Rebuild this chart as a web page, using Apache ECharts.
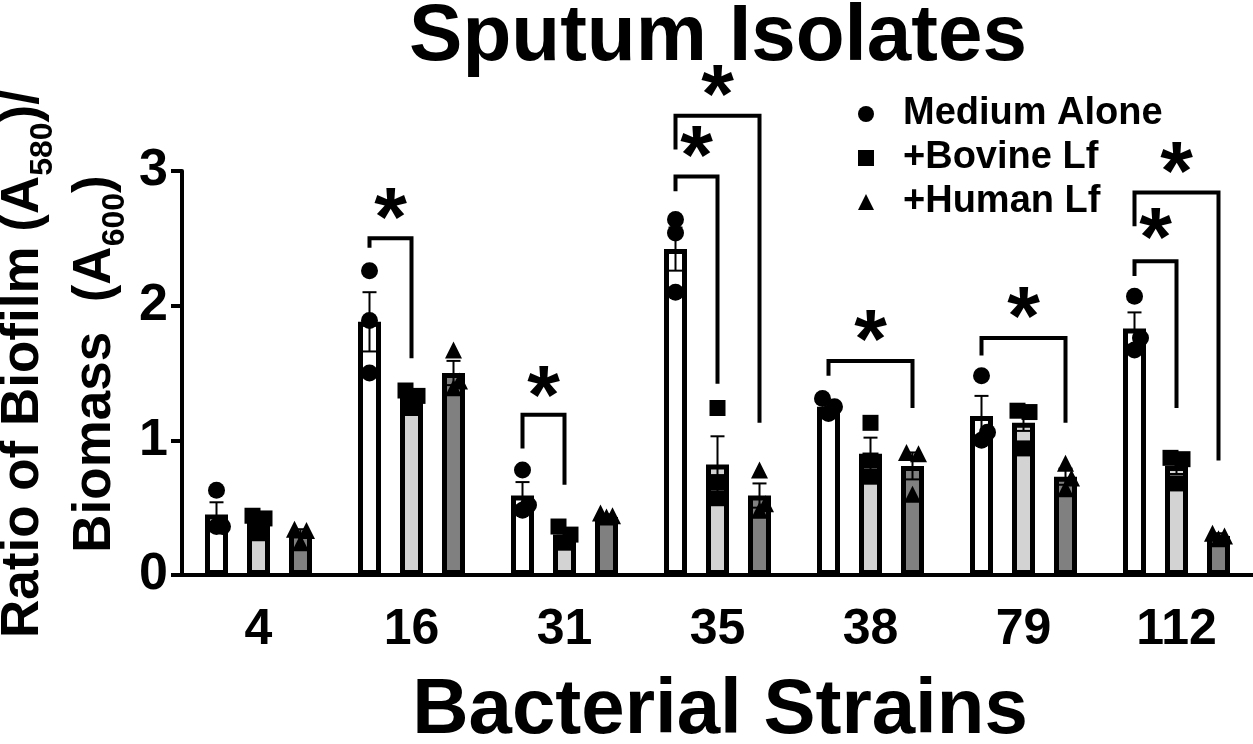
<!DOCTYPE html>
<html>
<head>
<meta charset="utf-8">
<title>Sputum Isolates</title>
<script src="https://cdn.jsdelivr.net/npm/echarts@6/dist/echarts.min.js"></script>
<style>
html, body { margin: 0; padding: 0; background: #fff; }
#chart { width: 1253px; height: 744px; }
</style>
</head>
<body>
<div id="chart"></div>
<script>
// categories and groups
const strains = ['4', '16', '31', '35', '38', '79', '112'];
const groupNames = ['Medium Alone', '+Bovine Lf', '+Human Lf'];

// bar heights (mean)
const meanMedium = [0.45, 1.88, 0.59, 2.42, 1.25, 1.18, 1.83];
const meanBovine = [0.39, 1.33, 0.30, 0.82, 0.90, 1.13, 0.81];
const meanHuman  = [0.31, 1.50, 0.43, 0.59, 0.81, 0.73, 0.29];

// error bars (SEM)
const semMedium = [0.09, 0.22, 0.10, 0.16, 0.03, 0.15, 0.12];
const semBovine = [0.04, 0.04, 0.04, 0.21, 0.12, 0.06, 0.06];
const semHuman  = [0.03, 0.09, 0.02, 0.09, 0.10, 0.06, 0.02];

// individual replicates
const ptsMedium = [[0.63, 0.36, 0.36], [2.26, 1.89, 1.50], [0.78, 0.52, 0.48], [2.64, 2.54, 2.10], [1.31, 1.25, 1.20], [1.48, 1.06, 1.00], [2.07, 1.76, 1.67]];
const ptsBovine = [[0.44, 0.42, 0.31], [1.37, 1.33, 1.24], [0.36, 0.30, 0.24], [1.24, 0.69, 0.57], [1.13, 0.85, 0.73], [1.22, 1.21, 0.94], [0.87, 0.86, 0.68]];
const ptsHuman  = [[0.34, 0.33, 0.24], [1.67, 1.44, 1.39], [0.46, 0.44, 0.43], [0.78, 0.53, 0.48], [0.91, 0.90, 0.60], [0.83, 0.72, 0.64], [0.31, 0.29, 0.27]];

// significance brackets: [strain index, from group, to group, y left end, y top, y right end, y of star]
const brackets = [
    [1, 0, 1, 2.43, 2.50, 1.61, 2.76],
    [2, 0, 1, 0.94, 1.19, 0.67, 1.44],
    [3, 0, 1, 2.85, 2.96, 1.42, 3.22],
    [3, 0, 2, 3.16, 3.41, 1.13, 3.67],
    [4, 0, 2, 1.48, 1.59, 1.24, 1.85],
    [5, 0, 2, 1.63, 1.76, 1.13, 2.02],
    [6, 0, 1, 2.22, 2.33, 1.24, 2.61],
    [6, 0, 2, 2.59, 2.84, 0.85, 3.10]
];

const FONT = '"Liberation Sans", Arial, Helvetica, sans-serif';
const BAR_W = 23;
const BAR_BORDER = 5;
const BAR_STEP = 42; // px between bar centres within a group
const STAR_SIZE = 84;
const fills = ['#ffffff', '#d3d3d3', '#808080'];
const symbols = ['circle', 'rect', 'triangle'];
const symbolSizes = [17, 16, 17];
const JIT = [-6, 6, 0];

const means = [meanMedium, meanBovine, meanHuman];
const sems = [semMedium, semBovine, semHuman];
const points = [ptsMedium, ptsBovine, ptsHuman];

// spread points that sit on top of each other
const jitter = (arr, j) => {
    const crowded = arr.some((v, n) => n !== j && Math.abs(v - arr[j]) < 0.1);
    return crowded ? JIT[j] : 0;
};

const barSeries = means.map((m, k) => ({
    type: 'bar',
    name: groupNames[k] + ' bar',
    data: m,
    barWidth: BAR_W,
    barGap: ((BAR_STEP - BAR_W) / BAR_W * 100).toFixed(1) + '%',
    itemStyle: { color: fills[k], borderColor: '#000', borderWidth: BAR_BORDER, opacity: 1 },
    silent: true,
    z: 2
}));

const errData = [];
means.forEach((m, k) => m.forEach((v, i) => errData.push([i, v, sems[k][i], k])));

const errSeries = {
    type: 'custom',
    name: 'sem',
    data: errData,
    encode: { x: 0, y: 1 },
    clip: false,
    silent: true,
    z: 3,
    renderItem: (params, api) => {
        const i = api.value(0), v = api.value(1), s = api.value(2), k = api.value(3);
        const hi = api.coord([i, v + s]);
        const lo = api.coord([i, v - s]);
        const x = hi[0] + (k - 1) * BAR_STEP;
        const cap = 7;
        const st = { stroke: '#000', lineWidth: 2 };
        return {
            type: 'group',
            children: [
                { type: 'line', shape: { x1: x, y1: hi[1], x2: x, y2: lo[1] }, style: st },
                { type: 'line', shape: { x1: x - cap, y1: hi[1], x2: x + cap, y2: hi[1] }, style: st },
                { type: 'line', shape: { x1: x - cap, y1: lo[1], x2: x + cap, y2: lo[1] }, style: st }
            ]
        };
    }
};

const scatterSeries = points.map((pts, k) => ({
    type: 'scatter',
    name: groupNames[k],
    symbol: symbols[k],
    symbolSize: symbolSizes[k],
    itemStyle: { color: '#000', opacity: 1 },
    silent: true,
    z: 4,
    data: pts.flatMap((arr, i) => arr.map((v, j) => ({
        value: [i, v],
        symbolOffset: [(k - 1) * BAR_STEP + jitter(arr, j), 0]
    })))
}));

const bracketSeries = {
    type: 'custom',
    name: 'sig',
    data: brackets,
    encode: { x: 0, y: 4 },
    clip: false,
    silent: true,
    z: 5,
    renderItem: (params, api) => {
        const i = api.value(0), a = api.value(1), b = api.value(2);
        const pL = api.coord([i, api.value(3)]);
        const pT = api.coord([i, api.value(4)]);
        const pR = api.coord([i, api.value(5)]);
        const pS = api.coord([i, api.value(6)]);
        const xa = pL[0] + (a - 1) * BAR_STEP;
        const xb = pL[0] + (b - 1) * BAR_STEP;
        return {
            type: 'group',
            children: [
                {
                    type: 'polyline',
                    shape: { points: [[xa, pL[1]], [xa, pT[1]], [xb, pT[1]], [xb, pR[1]]] },
                    style: { stroke: '#000', lineWidth: 4, fill: null, lineJoin: 'miter' }
                },
                {
                    type: 'text',
                    x: (xa + xb) / 2,
                    y: pS[1] + STAR_SIZE * 0.23,
                    style: {
                        text: '*', fontSize: STAR_SIZE, fontWeight: 'bold', fontFamily: FONT,
                        fill: '#000', align: 'center', verticalAlign: 'middle'
                    }
                }
            ]
        };
    }
};

const chart = echarts.init(document.getElementById('chart'), null, { renderer: 'canvas' });
chart.setOption({
    animation: false,
    backgroundColor: '#fff',
    grid: { left: 182, top: 171, width: 1076, height: 404, containLabel: false },
    legend: {
        data: groupNames,
        orient: 'vertical',
        left: 858,
        top: 95,
        padding: 0,
        itemGap: 6,
        itemWidth: 16,
        itemHeight: 16,
        selectedMode: false,
        textStyle: {
            fontSize: 38, fontWeight: 'bold', fontFamily: FONT, color: '#000',
            lineHeight: 38, padding: [0, 0, 0, 24]
        }
    },
    xAxis: {
        type: 'category',
        data: strains,
        axisLine: { lineStyle: { color: '#000', width: 4 } },
        axisTick: { alignWithLabel: true, length: 14, lineStyle: { color: '#000', width: 4 } },
        axisLabel: { fontSize: 50, fontWeight: 'bold', fontFamily: FONT, color: '#000', margin: 30 }
    },
    yAxis: {
        type: 'value',
        min: 0,
        max: 3,
        interval: 1,
        splitLine: { show: false },
        axisLine: { show: true, lineStyle: { color: '#000', width: 4 } },
        axisTick: { show: true, length: 11, lineStyle: { color: '#000', width: 4 } },
        axisLabel: { fontSize: 52, fontWeight: 'bold', fontFamily: FONT, color: '#000', margin: 14 }
    },
    graphic: [
        {
            type: 'text', x: 718, y: 38, silent: true,
            style: {
                text: 'Sputum Isolates', fontSize: 80, fontWeight: 'bold', fontFamily: FONT,
                fill: '#000', align: 'center', verticalAlign: 'middle'
            }
        },
        {
            type: 'text', x: 720, y: 711, silent: true,
            style: {
                text: 'Bacterial Strains', fontSize: 78, fontWeight: 'bold', fontFamily: FONT,
                fill: '#000', align: 'center', verticalAlign: 'middle'
            }
        },
        {
            type: 'text', x: 59, y: 364, rotation: Math.PI / 2, silent: true,
            style: {
                text: '{m|Ratio of Biofilm (A}{s|580}{m|)/}\n{m|Biomass  (A}{s|600}{m|)}',
                align: 'center', verticalAlign: 'middle', fill: '#000',
                rich: {
                    m: { fontSize: 53, fontWeight: 'bold', fontFamily: FONT, lineHeight: 72, fill: '#000' },
                    s: { fontSize: 32, fontWeight: 'bold', fontFamily: FONT, lineHeight: 37, verticalAlign: 'bottom', fill: '#000' }
                }
            }
        }
    ],
    series: [...barSeries, errSeries, ...scatterSeries, bracketSeries]
});
</script>
</body>
</html>
